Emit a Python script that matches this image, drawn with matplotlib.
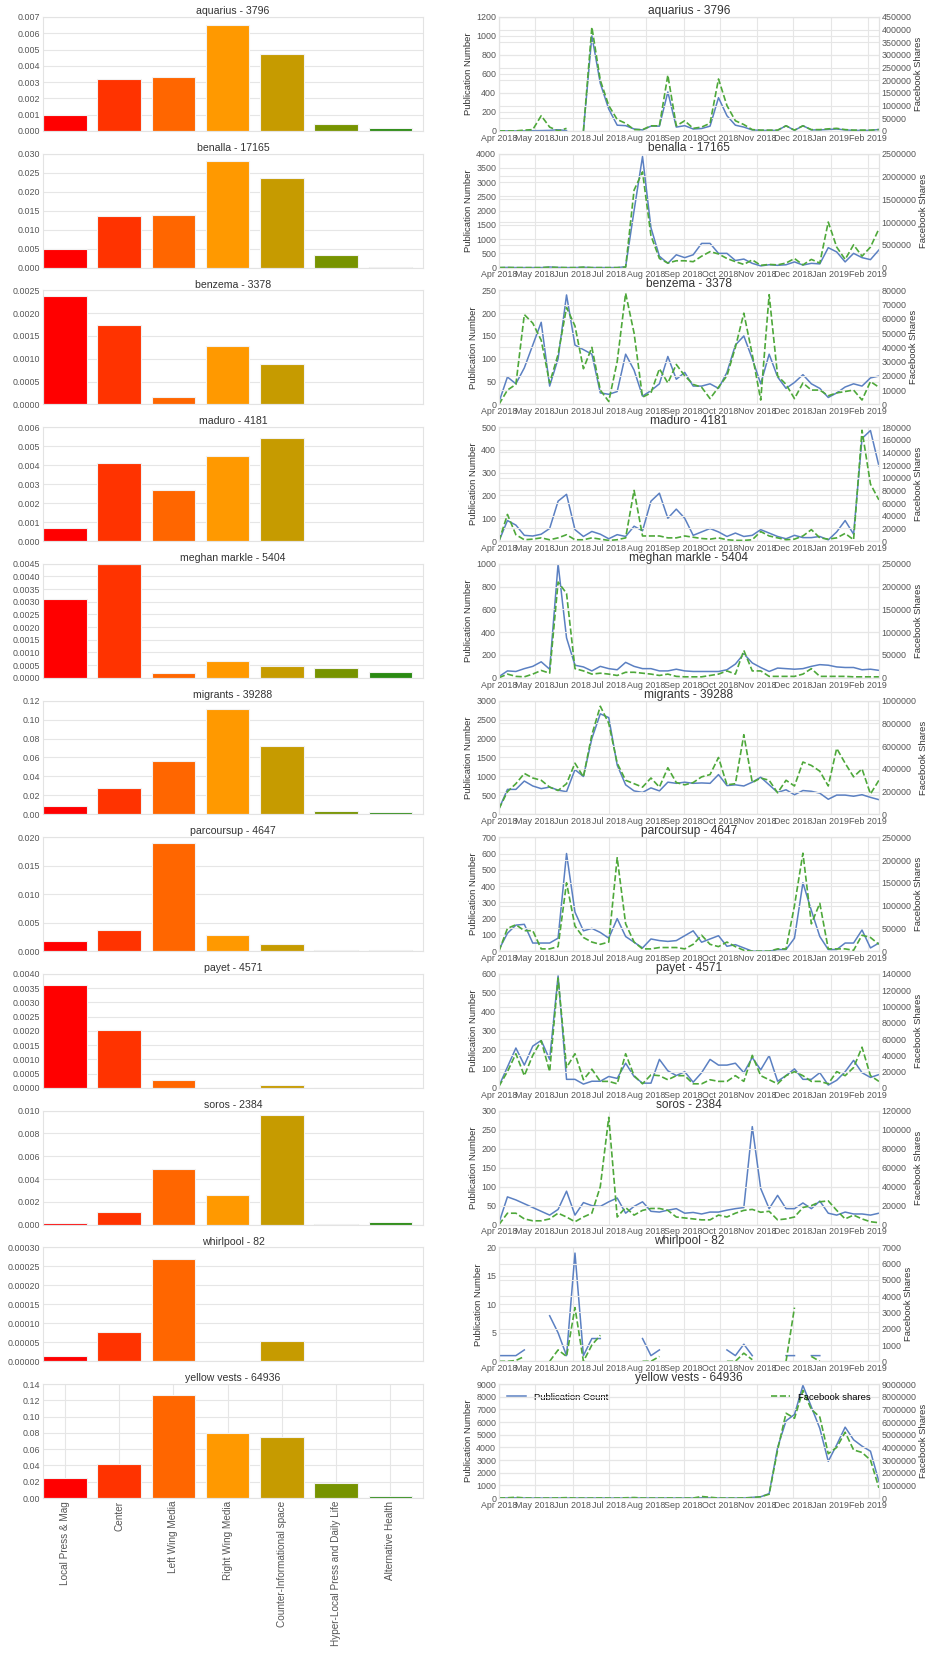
import numpy as np
import pandas as pd
import matplotlib
matplotlib.use('Agg')
import matplotlib.pyplot as plt
import matplotlib.dates as mdates
from matplotlib.ticker import MultipleLocator, FormatStrFormatter

plt.rcParams['font.family'] = ['Liberation Sans', 'DejaVu Sans']

nan = np.nan

categories = ['Local Press & Mag', 'Center', 'Left Wing Media', 'Right Wing Media',
              'Counter-Informational space', 'Hyper-Local Press and Daily Life', 'Alternative Health']
bar_colors = ['#ff0000', '#ff3300', '#ff6600', '#ff9900', '#c69b00', '#779300', '#2a8a12']

topics = ['aquarius', 'benalla', 'benzema', 'maduro', 'meghan markle', 'migrants',
          'parcoursup', 'payet', 'soros', 'whirlpool', 'yellow vests']
topic_counts = [3796, 17165, 3378, 4181, 5404, 39288, 4647, 4571, 2384, 82, 64936]

# share of each media category, per topic
bars_aquarius = [0.00095, 0.0032, 0.0033, 0.0065, 0.0047, 0.00045, 0.0002]
bars_benalla = [0.0048, 0.0137, 0.0138, 0.0281, 0.0235, 0.0033, 0.0002]
bars_benzema = [0.00238, 0.00173, 0.00017, 0.00128, 0.00089, 0, 0]
bars_maduro = [0.0007, 0.0041, 0.0027, 0.0045, 0.0054, 0, 0]
bars_meghan = [0.0031, 0.00448, 0.00018, 0.00066, 0.00045, 0.0004, 0.00024]
bars_migrants = [0.009, 0.028, 0.056, 0.111, 0.072, 0.0035, 0.003]
bars_parcoursup = [0.0018, 0.0038, 0.019, 0.0028, 0.0012, 0.0002, 0.0002]
bars_payet = [0.0036, 0.00205, 0.00027, 0, 0.0001, 0, 0]
bars_soros = [0.0001, 0.0011, 0.0049, 0.0026, 0.0096, 0.00005, 0.0002]
bars_whirlpool = [0.000013, 0.000076, 0.00027, 0, 0.000053, 0, 0]
bars_yellow = [0.025, 0.042, 0.126, 0.08, 0.075, 0.019, 0.003]

bar_ymax = [0.007, 0.03, 0.0025, 0.006, 0.0045, 0.12, 0.02, 0.004, 0.01, 0.0003, 0.14]
bar_ystep = [0.001, 0.005, 0.0005, 0.001, 0.0005, 0.02, 0.005, 0.0005, 0.002, 0.00005, 0.02]
bar_fmt = ['%.3f', '%.3f', '%.4f', '%.3f', '%.4f', '%.2f', '%.3f', '%.4f', '%.3f', '%.5f', '%.2f']

# weekly series, Apr 2018 - Feb 2019
weeks = pd.date_range('2018-04-01', periods=46, freq='W')

pub_aquarius = [0, 0, 0, 0, 2, 3, 5, 12, 3, nan,
                0, 1000, 500, 230, 60, 55, 20, 10, 50, 50,
                410, 40, 55, 20, 25, 50, 350, 160, 60, 40,
                10, 5, 5, 5, 55, 5, 55, 10, 10, 15,
                20, 10, 5, 5, 5, 15]
fb_aquarius = [0, 0, 0, 3000, 5000, 60000, 15000, 0, 10000, nan,
               0, 410000, 200000, 100000, 45000, 30000, 5000, 5000, 20000, 20000,
               220000, 20000, 40000, 10000, 15000, 30000, 205000, 100000, 40000, 25000,
               5000, 3000, 3000, 3000, 20000, 3000, 20000, 5000, 5000, 8000,
               10000, 5000, 3000, 3000, 3000, 5000]

pub_benalla = [0, 5, 0, 0, 0, 0, 20, 5, 0, 0,
               10, 0, 0, 0, 0, 30, 2000, 3900, 1400, 400,
               150, 450, 350, 450, 850, 850, 500, 500, 250, 300,
               150, 60, 100, 80, 100, 200, 90, 150, 130, 700,
               550, 200, 500, 350, 280, 620]
fb_benalla = [0, 3000, 0, 0, 0, 0, 10000, 3000, 0, 0,
              10000, 0, 0, 0, 0, 10000, 1700000, 2100000, 700000, 200000,
              100000, 150000, 150000, 130000, 250000, 350000, 300000, 200000, 130000, 70000,
              170000, 50000, 70000, 60000, 100000, 200000, 60000, 180000, 100000, 1000000,
              450000, 180000, 500000, 250000, 450000, 850000]

pub_benzema = [5, 60, 45, 80, 130, 180, 40, 100, 240, 130,
               120, 110, 25, 22, 28, 110, 75, 18, 30, 45,
               105, 55, 70, 40, 40, 45, 35, 70, 130, 150,
               100, 45, 110, 60, 35, 48, 65, 45, 35, 15,
               25, 38, 45, 40, 58, 62]
fb_benzema = [0, 10000, 14000, 63000, 57000, 45000, 15000, 35000, 68000, 55000,
              25000, 40000, 10000, 2000, 30000, 78000, 50000, 5000, 8000, 25000,
              15000, 28000, 20000, 14000, 12000, 4000, 12000, 20000, 40000, 64000,
              35000, 3000, 77000, 20000, 14000, 4000, 15000, 10000, 10000, 6000,
              8000, 9000, 10000, 3000, 16000, 12000]

pub_maduro = [0, 90, 70, 25, 22, 30, 55, 175, 205, 50,
              20, 42, 30, 10, 28, 20, 65, 45, 175, 210,
              100, 140, 100, 25, 40, 55, 40, 20, 35, 20,
              25, 50, 35, 20, 10, 25, 15, 15, 20, 5,
              40, 90, 30, 450, 485, 330]
fb_maduro = [0, 42000, 10000, 2000, 3000, 5000, 2000, 5000, 10000, 2000,
             2000, 5000, 3000, 1000, 2000, 5000, 80000, 8000, 8000, 8000,
             5000, 5000, 8000, 6000, 4000, 3000, 5000, 2000, 1000, 1000,
             2000, 15000, 8000, 5000, 2000, 3000, 8000, 18000, 5000, 3000,
             5000, 12000, 2000, 175000, 90000, 65000]

pub_meghan = [10, 60, 55, 80, 100, 140, 75, 1000, 350, 110,
              95, 60, 100, 80, 70, 135, 100, 80, 80, 60,
              60, 75, 60, 55, 55, 55, 55, 70, 120, 210,
              130, 90, 55, 85, 80, 75, 80, 100, 115, 110,
              95, 90, 90, 70, 75, 65]
fb_meghan = [0, 8000, 3000, 2000, 8000, 16000, 10000, 210000, 185000, 20000,
             15000, 8000, 10000, 8000, 5000, 12000, 12000, 10000, 8000, 5000,
             8000, 3000, 2000, 2000, 2000, 5000, 8000, 15000, 8000, 60000,
             15000, 15000, 3000, 3000, 3000, 3000, 8000, 20000, 3000, 3000,
             3000, 3000, 2000, 2000, 2000, 2000]

pub_migrants = [150, 660, 660, 880, 750, 680, 720, 640, 600, 1180,
                1000, 2000, 2650, 2550, 1300, 780, 620, 580, 700, 620,
                850, 820, 850, 820, 830, 820, 1050, 760, 780, 750,
                850, 980, 780, 580, 650, 520, 630, 610, 560, 400,
                510, 510, 480, 520, 450, 390]
fb_migrants = [50000, 200000, 270000, 360000, 320000, 300000, 240000, 210000, 270000, 450000,
               330000, 700000, 950000, 800000, 450000, 300000, 270000, 240000, 320000, 240000,
               410000, 280000, 260000, 280000, 330000, 350000, 500000, 260000, 270000, 700000,
               280000, 320000, 300000, 190000, 300000, 250000, 460000, 430000, 380000, 250000,
               580000, 450000, 330000, 400000, 180000, 300000]

pub_parcoursup = [10, 110, 160, 165, 50, 50, 50, 80, 600, 240,
                  125, 140, 115, 80, 200, 90, 55, 20, 75, 65,
                  60, 65, 95, 125, 55, 75, 95, 30, 40, 20,
                  0, 0, 0, 10, 10, 80, 420, 250, 90, 10,
                  10, 50, 50, 130, 20, 50]
fb_parcoursup = [0, 50000, 58000, 45000, 45000, 5000, 5000, 10000, 150000, 55000,
                 30000, 20000, 15000, 20000, 205000, 60000, 20000, 5000, 5000, 8000,
                 8000, 8000, 5000, 15000, 35000, 15000, 10000, 20000, 10000, 2000,
                 0, 0, 0, 5000, 5000, 100000, 215000, 60000, 105000, 5000,
                 5000, 5000, 2000, 35000, 30000, 15000]

pub_payet = [10, 110, 210, 120, 220, 250, 150, 590, 45, 45,
             20, 35, 35, 60, 50, 130, 60, 25, 25, 150,
             90, 65, 85, 30, 80, 150, 120, 120, 130, 80,
             160, 95, 170, 35, 65, 100, 45, 45, 80, 15,
             40, 85, 145, 80, 55, 70]
fb_payet = [2000, 20000, 42000, 15000, 40000, 58000, 20000, 135000, 25000, 42000,
            10000, 23000, 8000, 8000, 5000, 42000, 15000, 5000, 16000, 15000,
            10000, 15000, 15000, 5000, 5000, 10000, 8000, 8000, 15000, 8000,
            40000, 15000, 10000, 5000, 15000, 20000, 15000, 8000, 8000, 5000,
            20000, 15000, 25000, 50000, 15000, 8000]

pub_soros = [5, 73, 65, 55, 45, 35, 25, 40, 88, 25,
             58, 50, 48, 60, 70, 30, 48, 60, 35, 33,
             38, 42, 30, 32, 28, 33, 33, 38, 42, 45,
             258, 95, 42, 77, 42, 42, 57, 42, 62, 30,
             25, 33, 28, 28, 25, 30]
fb_soros = [0, 12000, 12000, 6000, 4000, 4000, 6000, 12000, 8000, 3000,
            8000, 12000, 40000, 113000, 8000, 18000, 10000, 15000, 17000, 17000,
            15000, 8000, 7000, 6000, 5000, 5000, 10000, 8000, 12000, 15000,
            16000, 13000, 14000, 5000, 6000, 8000, 18000, 20000, 24000, 25000,
            15000, 6000, 10000, 6000, 3000, 2000]

pub_whirlpool = [1, 1, 1, 2, nan, nan, 8, 5, 1, 19,
                 1, 4, 4, nan, nan, nan, nan, 4, 1, 2,
                 nan, nan, nan, nan, nan, nan, nan, 2, 1, 3,
                 1, nan, nan, nan, 1, 1, nan, 1, 1, nan,
                 nan, nan, nan, nan, nan, nan]
fb_whirlpool = [0, 0, 50, 300, nan, nan, 0, 700, 300, 3300,
                0, 1000, 1600, nan, nan, nan, nan, 0, 0, 300,
                nan, nan, nan, nan, nan, nan, nan, 0, 0, 500,
                100, nan, nan, nan, 0, 3300, nan, 300, 0, nan,
                nan, nan, nan, nan, nan, nan]

pub_yellow = [0, 10, 20, 5, 0, 0, 0, 5, 0, 0,
              0, 0, 5, 0, 0, 0, 5, 0, 0, 0,
              5, 0, 0, 0, 20, 10, 0, 0, 0, 5,
              50, 100, 350, 4000, 6100, 6600, 8900, 7200, 5500, 2900,
              4200, 5600, 4600, 4100, 3700, 1300]
fb_yellow = [0, 20000, 60000, 10000, 0, 0, 0, 10000, 30000, 0,
             0, 0, 10000, 0, 0, 20000, 40000, 0, 0, 0,
             10000, 0, 0, 0, 120000, 60000, 0, 0, 0, 10000,
             30000, 100000, 300000, 3800000, 6700000, 6300000, 8500000, 7000000, 6400000, 3500000,
             4000000, 5200000, 3800000, 3600000, 3000000, 800000]

pub_ymax = [1200, 4000, 250, 500, 1000, 3000, 700, 600, 300, 20, 9000]
pub_step = [200, 500, 50, 100, 200, 500, 100, 100, 50, 5, 1000]
fb_ymax = [450000, 2500000, 80000, 180000, 250000, 1000000, 250000, 140000, 120000, 7000, 9000000]
fb_step = [50000, 500000, 10000, 20000, 50000, 200000, 50000, 20000, 20000, 1000, 1000000]

bars = [bars_aquarius, bars_benalla, bars_benzema, bars_maduro, bars_meghan, bars_migrants,
        bars_parcoursup, bars_payet, bars_soros, bars_whirlpool, bars_yellow]
pubs = [pub_aquarius, pub_benalla, pub_benzema, pub_maduro, pub_meghan, pub_migrants,
        pub_parcoursup, pub_payet, pub_soros, pub_whirlpool, pub_yellow]
fbs = [fb_aquarius, fb_benalla, fb_benzema, fb_maduro, fb_meghan, fb_migrants,
       fb_parcoursup, fb_payet, fb_soros, fb_whirlpool, fb_yellow]

grid_c = '#e6e6e6'
tick_c = '#555555'
text_c = '#333333'
tick_fs = 6.4


def style_axes(ax):
    ax.set_facecolor('white')
    for s in ax.spines.values():
        s.set_color('#e3e3e3')
        s.set_linewidth(0.8)
    ax.tick_params(length=0, labelsize=tick_fs, labelcolor=tick_c, pad=2)
    ax.grid(True, color=grid_c, linewidth=0.8)
    ax.set_axisbelow(True)


fig, axes = plt.subplots(11, 2, figsize=(9.37, 16.63), dpi=100)
fig.subplots_adjust(left=0.046, right=0.938, top=0.9898, bottom=0.0992, hspace=0.2, wspace=0.2)

n = len(topics)
for i in range(n):
    # left: bar chart of categories
    ax = axes[i, 0]
    style_axes(ax)
    ax.bar(np.arange(len(categories)), bars[i], width=0.8, align='edge',
           color=bar_colors, edgecolor='#f2f2f2', linewidth=0.8)
    ax.set_xlim(0, len(categories))
    ax.set_ylim(0, bar_ymax[i])
    ax.yaxis.set_major_locator(MultipleLocator(bar_ystep[i]))
    ax.yaxis.set_major_formatter(FormatStrFormatter(bar_fmt[i]))
    ax.set_title(f'{topics[i]} - {topic_counts[i]}', fontsize=7.6, color=text_c, pad=2)
    if i == n - 1:
        ax.set_xticks(np.arange(len(categories)) + 0.4)
        ax.set_xticklabels(categories, rotation=90, fontsize=7.2, color=tick_c)
    else:
        ax.set_xticks([])

    # right: weekly publications and facebook shares
    ax1 = axes[i, 1]
    style_axes(ax1)
    ax2 = ax1.twinx()
    style_axes(ax2)
    l1, = ax1.plot(weeks, pubs[i], color='#5b80c2', linewidth=1.1, label='Publication Count')
    l2, = ax2.plot(weeks, fbs[i], color='#4ea83a', linewidth=1.2, linestyle='--', label='Facebook shares')
    ax1.set_xlim(weeks[0], weeks[-1])
    ax1.set_ylim(0, pub_ymax[i])
    ax2.set_ylim(0, fb_ymax[i])
    ax1.yaxis.set_major_locator(MultipleLocator(pub_step[i]))
    ax2.yaxis.set_major_locator(MultipleLocator(fb_step[i]))
    ax1.yaxis.set_major_formatter(FormatStrFormatter('%d'))
    ax2.yaxis.set_major_formatter(FormatStrFormatter('%d'))
    ax1.xaxis.set_major_locator(mdates.MonthLocator())
    ax1.xaxis.set_major_formatter(mdates.DateFormatter('%b %Y'))
    ax1.set_ylabel('Publication Number', fontsize=6.8, color=text_c, labelpad=2)
    ax2.set_ylabel('Facebook Shares', fontsize=6.8, color=text_c, labelpad=2)
    ax1.set_title(f'{topics[i]} - {topic_counts[i]}', fontsize=8.6, color=text_c, pad=2)
    if i == n - 1:
        ax1.legend(handles=[l1], loc='upper left', frameon=False, fontsize=6.8)
        ax2.legend(handles=[l2], loc='upper right', frameon=False, fontsize=6.8)

plt.savefig('out.png', dpi=100, facecolor='white')
